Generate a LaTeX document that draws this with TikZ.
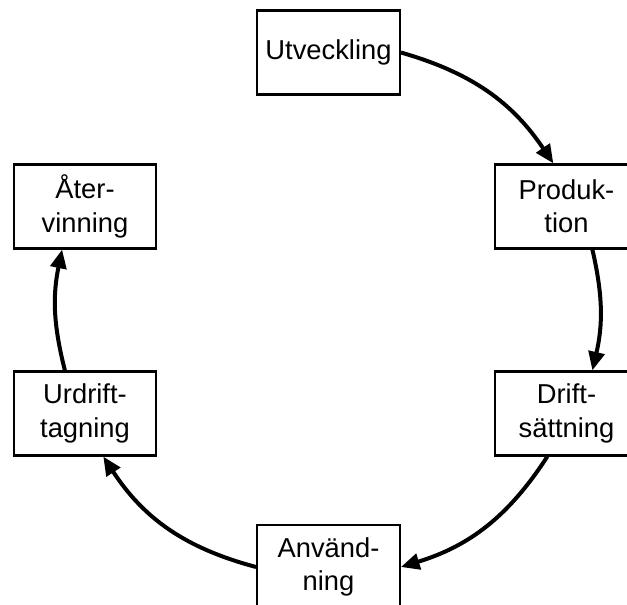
\documentclass[tikz,border=0pt]{standalone}
\usepackage{fontspec}
\setmainfont{Liberation Sans}
\usetikzlibrary{arrows.meta}

\tikzset{
  phase/.style={draw, line width=1.6pt, minimum width=107pt, minimum height=63pt,
    inner sep=2pt, align=center, font=\fontsize{20.5}{25}\selectfont},
  flow/.style={line width=3pt, -{Triangle[length=14pt,width=12pt]}},
}

\begin{document}
\begin{tikzpicture}[x=0.75pt, y=0.75pt]
  \useasboundingbox (0,0) rectangle (627,-605);
  \clip (0,0) rectangle (627,-605);

  % the six phases round the cycle
  \node[phase] (utv)   at (328.5,-52.5)  {Utveckling};
  \node[phase] (prod)  at (566.5,-206.5) {Produk-\\tion};
  \node[phase] (drift) at (566.5,-413.5) {Drift-\\sättning};
  \node[phase] (anv)   at (328.5,-567)   {Använd-\\ning};
  \node[phase] (urd)   at (85,-413.5)    {Urdrift-\\tagning};
  \node[phase] (ater)  at (85,-206.5)    {Åter-\\vinning};

  % arcs between them, clockwise
  \draw[flow] (utv.east)   to[bend left=20] (prod.107);
  \draw[flow] (prod.-59)   to[bend left=13] (drift.59);
  \draw[flow] (drift.-114) to[bend left=20] (anv.east);
  \draw[flow] (anv.west)   to[bend left=21] (urd.-67);
  \draw[flow] (urd.115)    to[bend left=13] (ater.-118);
\end{tikzpicture}
\end{document}
